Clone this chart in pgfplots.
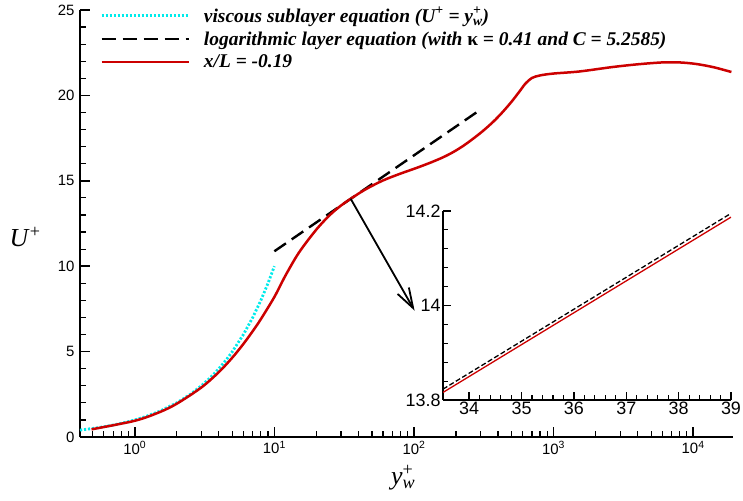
\documentclass[border=0pt]{standalone}
\usepackage{fontspec}
\setmainfont{Liberation Serif}
\newfontfamily\arial{Liberation Sans}
\usepackage{pgfplots}
\pgfplotsset{compat=1.18}
\usetikzlibrary{arrows.meta}
\definecolor{cyanl}{RGB}{0,235,235}
\definecolor{redl}{RGB}{204,0,0}
\newcommand{\yw}{\textit{y}\rlap{\textsuperscript{+}}\textsubscript{\textit{w}}}
\begin{document}
\begin{tikzpicture}
\begin{axis}[
  at={(0,0)}, anchor=south west,
  scale only axis, width=653bp, height=427bp,
  xmode=log, xmin=0.405, xmax=19300, ymin=0, ymax=25,
  axis x line*=bottom, axis y line*=left,
  axis line style={line width=1.7bp},
  tick align=inside,
  major tick length=10bp, minor tick length=6bp,
  every tick/.style={black, line width=1.2bp},
  every major tick/.append style={line width=1.7bp},
  ytick={0,5,10,15,20,25}, minor ytick={1,2,3,4,6,7,8,9,11,12,13,14,16,17,18,19,21,22,23,24},
  yticklabels={0,5,10,15,20,25},
  xtick={1,10,100,1000,10000},
  xticklabels={10\textsuperscript{0},10\textsuperscript{1},10\textsuperscript{2},10\textsuperscript{3},10\textsuperscript{4}},
  minor xtick={0.5,0.6,0.7,0.8,0.9,2,3,4,5,6,7,8,9,20,30,40,50,60,70,80,90,200,300,400,500,600,700,800,900,2000,3000,4000,5000,6000,7000,8000,9000},
  tick label style={font=\arial\fontsize{15}{18}\selectfont},
  yticklabel style={xshift=-2bp},
  xticklabel style={yshift=-1bp},
  xlabel={\yw},
  ylabel={\textit{U}\textsuperscript{+}},
  xlabel style={font=\fontsize{26}{30}\selectfont, at={(axis description cs:0.495,-0.096)}, anchor=center},
  ylabel style={font=\fontsize{26}{30}\selectfont, rotate=-90, at={(axis description cs:-0.084,0.468)}, anchor=center},
  legend image code/.code={\draw[#1] (0bp,0bp) -- (87bp,0bp);},
  legend cell align=left,
  legend style={at={(axis description cs:0.0306,1.012)}, anchor=north west, draw=none, fill=none,
    font=\bfseries\itshape\fontsize{19.5}{23}\selectfont, row sep=4bp, column sep=12bp,
    inner sep=0pt},
]
\addplot[cyanl, line width=2.8bp, dash pattern=on 2.2bp off 1.8bp] coordinates {
(0.405,0.405) (0.5,0.5) (0.6,0.6) (0.7,0.7) (0.8,0.8) (0.9,0.9) (1,1) (1.2,1.2) (1.5,1.5) (2,2) (2.5,2.5) (3,3) (3.5,3.5) (4,4) (4.5,4.5) (5,5) (6,6) (7,7) (8,8) (9,9) (10,10)};
\addlegendentry{viscous sublayer equation (\textit{U}\textsuperscript{+} = \yw)}
\addplot[black, line width=2.4bp, dash pattern=on 14bp off 7bp] coordinates {
(10,10.875) (20,12.565) (50,14.80) (100,16.49) (200,18.18) (300,19.17)};
\addlegendentry{logarithmic layer equation (with {\upshape κ} = 0.41 and C = 5.2585)}
\addplot[redl, line width=2.5bp, smooth, tension=0.5] coordinates {
(0.49,0.45) (1,0.95) (1.5,1.45) (2,1.95) (3,2.9) (4,3.8) (5,4.65) (6,5.45) (7,6.2) (8,6.9) (10,8.2) (12,9.45) (15,10.8) (20,12.15) (25,13.0) (30,13.55) (36,14.0) (45,14.5) (60,15.02) (80,15.42) (104,15.75) (130,16.05) (160,16.36) (190,16.67) (223,17.02) (260,17.41) (310,17.9) (370,18.46) (430,19.01) (500,19.63) (570,20.23) (630,20.7) (700,21.02) (800,21.17) (1000,21.28) (1530,21.4) (2640,21.66) (4000,21.82) (6000,21.93) (8000,21.93) (10500,21.84) (14000,21.65) (18800,21.37)};
\addlegendentry{x/L = -0.19}
\addplot[black, line width=1.8bp, -{Straight Barb[length=20bp,width=13bp,line width=1.8bp]}, forget plot] coordinates {(35.2,13.95) (101,7.4)};
\end{axis}
\begin{axis}[
  at={(363bp,37bp)}, anchor=south west,
  scale only axis, width=288bp, height=189bp,
  xmin=33.5, xmax=39, ymin=13.8, ymax=14.2,
  axis x line*=bottom, axis y line*=left,
  axis line style={line width=1.5bp},
  tick align=inside,
  major tick length=8bp, minor tick length=5bp,
  every tick/.style={black, line width=1.1bp},
  every major tick/.append style={line width=1.5bp},
  xtick={34,35,36,37,38,39}, xticklabels={34,35,36,37,38,39}, minor x tick num=4,
  ytick={13.8,14,14.2}, yticklabels={13.8,14,14.2}, minor y tick num=4,
  tick label style={font=\arial\fontsize{18}{21}\selectfont},
  yticklabel style={xshift=1bp},
  xticklabel style={yshift=2bp},
]
\addplot[black, line width=1.3bp, dash pattern=on 5bp off 2.5bp] coordinates {(33.5,13.823) (39,14.195)};
\addplot[redl, line width=1.3bp] coordinates {(33.5,13.816) (39,14.187)};
\end{axis}
\pgfresetboundingbox
\path[use as bounding box] (-80bp,-64bp) rectangle (663bp,437bp);
\end{tikzpicture}
\end{document}
